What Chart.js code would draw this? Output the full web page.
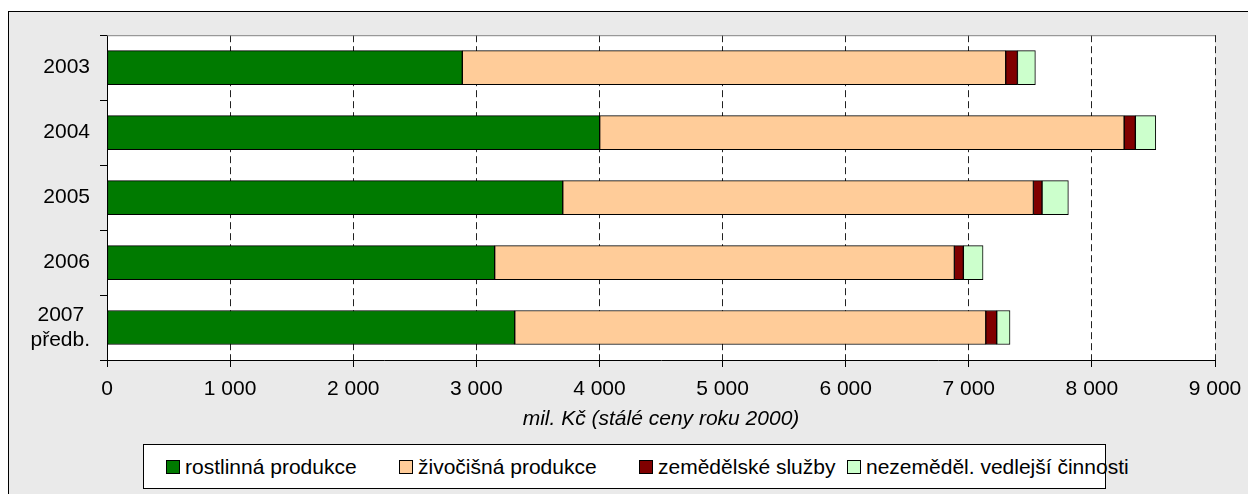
<!DOCTYPE html>
<html>
<head>
<meta charset="utf-8">
<script src="https://cdn.jsdelivr.net/npm/chart.js@4"></script>
<style>
  body { margin: 0; background: #fff; font-family: "Liberation Sans", Arial, sans-serif; }
  #frame { position: absolute; left: 8px; top: 11px; width: 1260px; height: 500px; border: 1px solid #000; background: #eaeaea; }
  #wrap { position: absolute; left: 0; top: 0; width: 1248px; height: 440px; }
  #legend { position: absolute; left: 143px; top: 444px; width: 961px; height: 43px; border: 1px solid #000; background: #fff; }
  .item { position: absolute; top: 0; height: 43px; display: flex; align-items: center; font-size: 21px; color: #000; white-space: nowrap; }
  .box { width: 12px; height: 12px; border: 1px solid #000; margin-right: 5px; }
</style>
</head>
<body>
<div id="frame"></div>
<div id="wrap"><canvas id="chart" width="1248" height="440"></canvas></div>
<div id="legend"></div>
<script>
  const years = ["2003", "2004", "2005", "2006", ["2007 ", "předb."]];
  const seriesNames = ["rostlinná produkce", "živočišná produkce", "zemědělské služby", "nezeměděl. vedlejší činnosti"];
  const seriesColors = ["#007a00", "#ffcc99", "#800000", "#ccffcc"];
  const rostlinna = [2886, 4002, 3702, 3149, 3312];
  const zivocisna = [4414, 4260, 3823, 3734, 3826];
  const sluzby = [95, 91, 70, 73, 89];
  const nezemedel = [146, 166, 214, 160, 108];
  const xTicks = [0, 1000, 2000, 3000, 4000, 5000, 6000, 7000, 8000, 9000];
  const legendLeft = [22, 255, 495, 703];

  const values = [rostlinna, zivocisna, sluzby, nezemedel];

  const plotBg = {
    id: "plotBg",
    beforeDraw(chart) {
      const a = chart.chartArea, ctx = chart.ctx;
      ctx.save();
      ctx.fillStyle = "#fff";
      ctx.fillRect(a.left, a.top, a.right - a.left, a.bottom - a.top);
      ctx.restore();
    },
    afterDraw(chart) {
      const a = chart.chartArea, ctx = chart.ctx;
      ctx.save();
      ctx.strokeStyle = "#808080";
      ctx.lineWidth = 1;
      ctx.beginPath();
      ctx.moveTo(a.left, a.top + 0.5);
      ctx.lineTo(a.right, a.top + 0.5);
      ctx.stroke();
      ctx.restore();
    }
  };

  const fmt = v => String(v).replace(/\B(?=(\d{3})+(?!\d))/g, " ");

  new Chart(document.getElementById("chart"), {
    type: "bar",
    data: {
      labels: years,
      datasets: seriesNames.map((name, i) => ({
        label: name,
        data: values[i],
        backgroundColor: seriesColors[i],
        borderColor: "#000",
        borderWidth: 1,
        borderSkipped: false,
        barThickness: 34
      }))
    },
    options: {
      indexAxis: "y",
      responsive: false,
      animation: false,
      layout: { padding: { left: 0, right: 33, top: 33, bottom: 0 } },
      plugins: { legend: { display: false }, tooltip: { enabled: false } },
      scales: {
        x: {
          stacked: true,
          min: 0,
          max: 9000,
          afterBuildTicks: s => { s.ticks = xTicks.map(v => ({ value: v })); },
          afterFit: s => { s.height = 80; s.paddingLeft = 0; s.paddingRight = 0; },
          ticks: {
            color: "#000",
            font: { family: "Liberation Sans", size: 21 },
            padding: 10,
            maxRotation: 0,
            callback: v => fmt(v)
          },
          grid: { color: "#222", lineWidth: 1, tickLength: 7, tickColor: "#000", tickBorderDash: [] },
          border: { display: true, color: "#000", width: 1, dash: [7, 4] },
          title: {
            display: true,
            text: "mil. Kč (stálé ceny roku 2000)",
            color: "#000",
            font: { family: "Liberation Sans", size: 21, style: "italic" },
            padding: { top: 0, bottom: 8 }
          }
        },
        y: {
          stacked: true,
          afterFit: s => { s.width = 107; },
          ticks: {
            color: "#000",
            font: { family: "Liberation Sans", size: 21 },
            padding: 10
          },
          grid: { drawOnChartArea: false, offset: true, tickLength: 7, color: "#000", tickColor: "#000" },
          border: { display: true, color: "#000", width: 1 }
        }
      }
    },
    plugins: [plotBg]
  });

  const legend = document.getElementById("legend");
  seriesNames.forEach((name, i) => {
    const item = document.createElement("div");
    item.className = "item";
    item.style.left = legendLeft[i] + "px";
    item.innerHTML = '<span class="box" style="background:' + seriesColors[i] + '"></span>' + name;
    legend.appendChild(item);
  });
</script>
</body>
</html>
